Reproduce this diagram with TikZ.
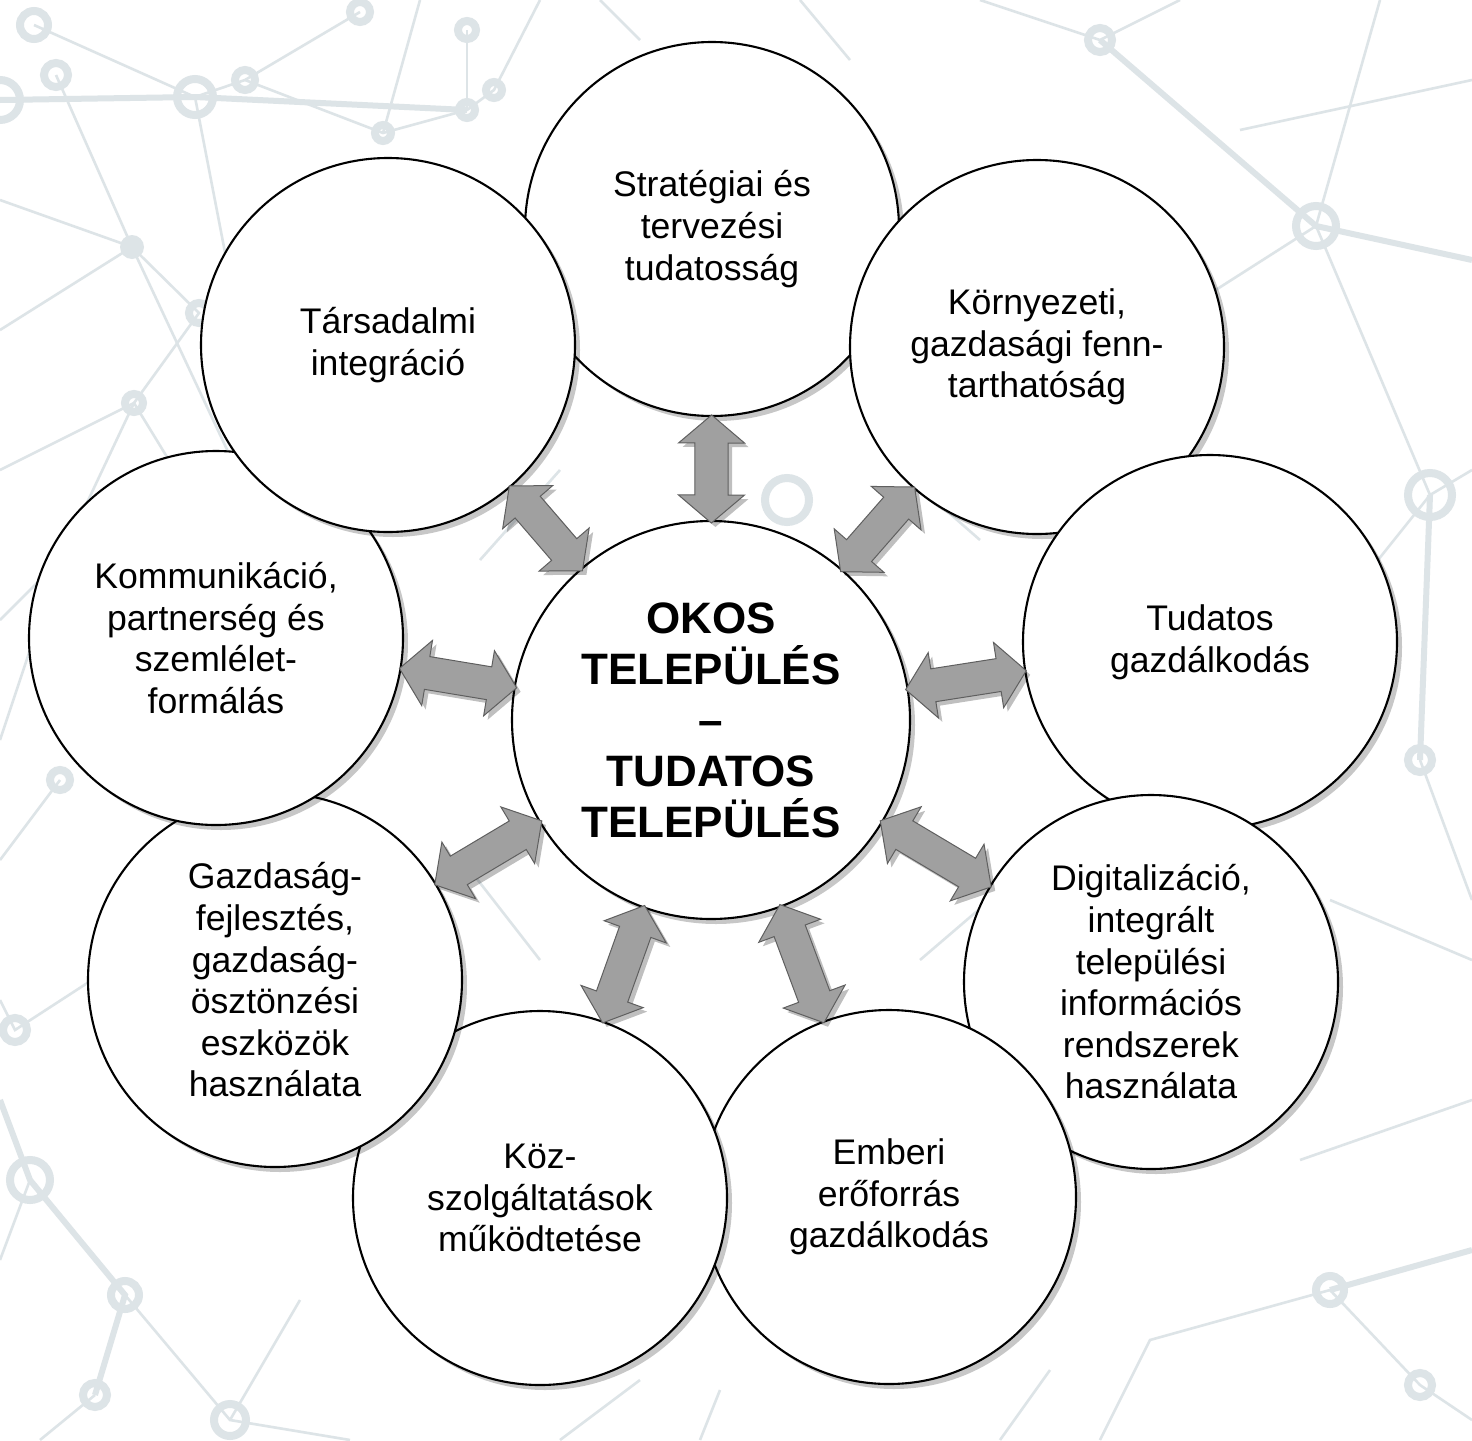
\documentclass[tikz,border=0pt]{standalone}
\usepackage{fontspec}
\setmainfont{Liberation Sans}
\usetikzlibrary{calc,shadows}
\definecolor{bgnet}{RGB}{221,228,231}
\definecolor{arrowfill}{RGB}{160,160,160}
\definecolor{arrowline}{RGB}{95,95,95}
\def\ahl{14pt}
\def\ahw{16.5pt}
\def\asw{8.3pt}
\begin{document}
\begin{tikzpicture}[x=0.5pt,y=-0.5pt,
  bubble/.style={circle, draw=black, line width=1.05pt, fill=white, minimum size=187pt,
    inner sep=0pt, align=center, font=\fontsize{17.8}{20.8}\selectfont,
    drop shadow={shadow xshift=2.5pt, shadow yshift=-2.5pt, opacity=0.22, fill=black}},
  hub/.style={bubble, minimum size=199pt},
  hubtext/.style={align=center, inner sep=0pt, font=\fontsize{22}{25.5}\selectfont\bfseries},
  bgl/.style={draw=bgnet, line width=1.3pt},
  bgthick/.style={draw=bgnet, line width=3pt},
  bgr/.style={draw=bgnet, line width=4pt},
  arrowbody/.style={fill=arrowfill, draw=arrowline, line width=0.5pt,
    drop shadow={shadow xshift=2pt, shadow yshift=-2pt, opacity=0.25, fill=black}},
  dblarrow/.style={to path={
    ($(\tikztostart)!\ahl!(\tikztotarget)$) coordinate (h1)
    ($(\tikztotarget)!\ahl!(\tikztostart)$) coordinate (h2)
    (\tikztostart) -- ($(h1)!\ahw!90:(\tikztotarget)$) -- ($(h1)!\asw!90:(\tikztotarget)$)
    -- ($(h2)!\asw!-90:(\tikztostart)$) -- ($(h2)!\ahw!-90:(\tikztostart)$)
    -- (\tikztotarget)
    -- ($(h2)!\ahw!90:(\tikztostart)$) -- ($(h2)!\asw!90:(\tikztostart)$)
    -- ($(h1)!\asw!-90:(\tikztotarget)$) -- ($(h1)!\ahw!-90:(\tikztotarget)$) -- cycle}}
]
\useasboundingbox (0,0) rectangle (1472,1440);
\fill[white] (0,0) rectangle (1472,1440);

% ---------- faint background network ----------
\begin{scope}
\draw[bgthick] (0,100) -- (195,97) -- (467,110);
\draw[bgl] (34,25) -- (195,97) -- (245,80) -- (360,12);
\draw[bgl] (56,75) -- (132,247) -- (199,313) -- (134,403) -- (60,560);
\draw[bgl] (245,80) -- (383,133) -- (467,110) -- (494,90) -- (540,0);
\draw[bgl] (467,30) -- (467,110);
\draw[bgl] (0,200) -- (132,247) -- (260,520);
\draw[bgl] (195,97) -- (240,330);
\draw[bgl] (383,133) -- (420,0);
\draw[bgl] (0,330) -- (132,247);
\draw[bgl] (0,470) -- (134,403) -- (230,560);
\draw[bgl] (0,620) -- (60,560) -- (0,740);
\draw[bgl] (60,780) -- (0,860);
\draw[bgl] (0,1000) -- (15,1030) -- (92,980);
\draw[bgthick] (0,1100) -- (30,1180) -- (125,1295) -- (95,1395);
\draw[bgl] (125,1295) -- (230,1420) -- (350,1440);
\draw[bgl] (30,1180) -- (0,1260);
\draw[bgl] (95,1395) -- (40,1440);
\draw[bgl] (230,1420) -- (300,1300);
\draw[bgl] (560,1440) -- (640,1380);
\draw[bgl] (700,1440) -- (720,1390);
\draw[bgl] (1000,1440) -- (1050,1370);
\draw[bgl] (1100,1440) -- (1150,1340) -- (1330,1290);
\draw[bgthick] (1330,1290) -- (1472,1250);
\draw[bgl] (1330,1290) -- (1420,1385) -- (1472,1420);
\draw[bgl] (1300,1160) -- (1472,1100);
\draw[bgl] (1330,900) -- (1472,960);
\draw[bgl] (1420,760) -- (1472,900);
\draw[bgl] (1250,720) -- (1430,495);
\draw[bgthick] (1430,495) -- (1420,760);
\draw[bgl] (1316,226) -- (1430,495) -- (1472,470);
\draw[bgthick] (1100,40) -- (1316,226) -- (1472,260);
\draw[bgl] (1200,300) -- (1316,226) -- (1380,0);
\draw[bgl] (980,0) -- (1100,40) -- (1180,0);
\draw[bgl] (1240,130) -- (1472,80);
\draw[bgl] (600,0) -- (640,40);
\draw[bgl] (800,0) -- (850,60);
\draw[bgl] (480,560) -- (560,470);
\draw[bgl] (470,870) -- (540,960);
\draw[bgl] (900,470) -- (980,540);
\draw[bgl] (920,960) -- (990,900);
\draw[bgr] (34,25) circle[radius=14];
\draw[bgr] (56,75) circle[radius=12];
\draw[bgr] (195,97) circle[radius=18];
\draw[bgr] (245,80) circle[radius=10];
\draw[bgr] (360,12) circle[radius=10];
\draw[bgr] (467,30) circle[radius=9];
\draw[bgr] (467,110) circle[radius=8];
\draw[bgr] (494,90) circle[radius=8];
\draw[bgr] (383,133) circle[radius=8];
\fill[bgnet] (132,247) circle[radius=12];
\draw[bgr] (134,403) circle[radius=9];
\draw[bgr] (199,313) circle[radius=10];
\draw[bgr] (0,100) circle[radius=20];
\draw[bgr] (60,560) circle[radius=10];
\draw[bgr] (60,780) circle[radius=10];
\draw[bgr] (15,1030) circle[radius=12];
\draw[bgr] (30,1180) circle[radius=20];
\draw[bgr] (125,1295) circle[radius=14];
\draw[bgr] (95,1395) circle[radius=12];
\draw[bgr] (230,1420) circle[radius=16];
\draw[bgr] (1100,40) circle[radius=12];
\draw[bgr] (1316,226) circle[radius=20];
\draw[bgr] (1430,495) circle[radius=22];
\draw[bgr] (1420,760) circle[radius=12];
\draw[bgr] (1330,1290) circle[radius=14];
\draw[bgr] (1420,1385) circle[radius=12];
\draw[bgr] (787,500) circle[radius=22];
\end{scope}

% ---------- outer circles (later ones overlap earlier ones) ----------
\node[bubble] (o1) at (712,229)  {Stratégiai és\\tervezési\\tudatosság};
\node[bubble] (o2) at (1037,347) {Környezeti,\\gazdasági fenn-\\tarthatóság};
\node[bubble] (o3) at (1210,642) {Tudatos\\gazdálkodás};
\node[bubble] (o4) at (1151,982) {Digitalizáció,\\integrált\\települési\\információs\\rendszerek\\használata};
\node[bubble] (o5) at (889,1197) {Emberi\\erőforrás\\gazdálkodás};
\node[bubble] (o6) at (540,1198) {Köz-\\szolgáltatások\\működtetése};
\node[bubble] (o7) at (275,980)  {Gazdaság-\\fejlesztés,\\gazdaság-\\ösztönzési\\eszközök\\használata};
\node[bubble] (o8) at (216,638)  {Kommunikáció,\\partnerség és\\szemlélet-\\formálás};
\node[bubble] (o9) at (388,345)  {Társadalmi\\integráció};

% ---------- centre ----------
\node[hub] (c) at (711,720) {};
\node[hubtext] (ctext) at (c.center) {OKOS\\TELEPÜLÉS\\–\\TUDATOS\\TELEPÜLÉS};

% ---------- double arrows ----------
\foreach \o in {o1,o2,o3,o4,o5,o6,o7,o8,o9}{
  \coordinate (\o-in)  at ($(c.center)!98.5pt!(\o.center)$);
  \coordinate (\o-out) at ($(\o.center)!93pt!(c.center)$);
  \draw[arrowbody] (\o-in) to[dblarrow] (\o-out);
}
\end{tikzpicture}
\end{document}
